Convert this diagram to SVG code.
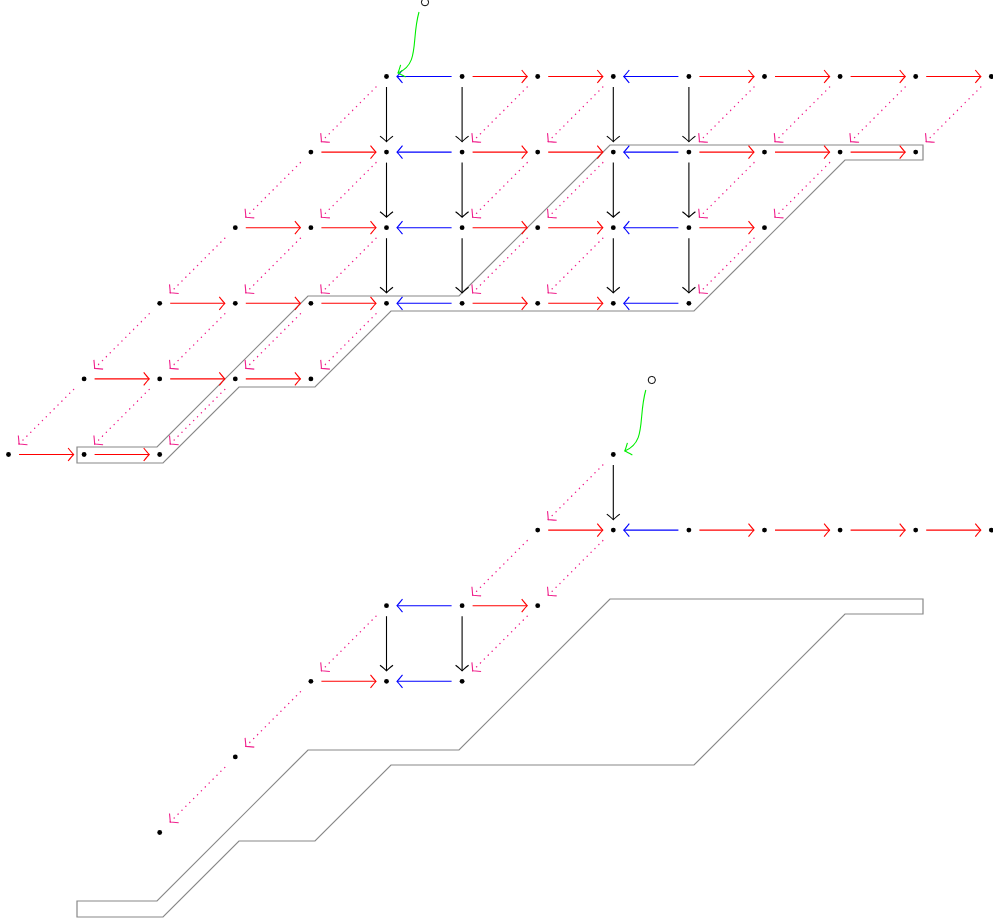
<svg xmlns="http://www.w3.org/2000/svg" width="993" height="924" viewBox="0 0 993 924">
<style>
.d{fill:#000}
.r{stroke:#ff0000;stroke-width:1.1;fill:none;marker-end:url(#ar)}
.b{stroke:#0000ff;stroke-width:1.1;fill:none;marker-end:url(#ab)}
.k{stroke:#000;stroke-width:1.1;fill:none;marker-end:url(#ak)}
.p{stroke:#f0208c;stroke-width:1.4;fill:none;stroke-linecap:round;stroke-dasharray:0.1 5.4;marker-end:url(#ap)}
.g{stroke:#00ee00;stroke-width:1.1;fill:none;marker-end:url(#ag)}
.o{stroke:#000;stroke-width:1;fill:#fff}
.band{stroke:#888;stroke-width:1.2;fill:none}
</style>
<defs>
<marker id="ar" markerUnits="userSpaceOnUse" orient="auto" refX="0" refY="0" markerWidth="14" markerHeight="14" viewBox="-7 -7 14 14" overflow="visible"><path d="M-5.5,-6.5 Q-1.5,-1.5 0,0 Q-1.5,1.5 -5.5,6.5" fill="none" stroke="#ff0000" stroke-width="1.1"/></marker>
<marker id="ab" markerUnits="userSpaceOnUse" orient="auto" refX="0" refY="0" markerWidth="14" markerHeight="14" viewBox="-7 -7 14 14" overflow="visible"><path d="M-5.5,-6.5 Q-1.5,-1.5 0,0 Q-1.5,1.5 -5.5,6.5" fill="none" stroke="#0000ff" stroke-width="1.1"/></marker>
<marker id="ak" markerUnits="userSpaceOnUse" orient="auto" refX="0" refY="0" markerWidth="14" markerHeight="14" viewBox="-7 -7 14 14" overflow="visible"><path d="M-5.5,-6.5 Q-1.5,-1.5 0,0 Q-1.5,1.5 -5.5,6.5" fill="none" stroke="#000" stroke-width="1.1"/></marker>
<marker id="ap" markerUnits="userSpaceOnUse" orient="auto" refX="0" refY="0" markerWidth="14" markerHeight="14" viewBox="-7 -7 14 14" overflow="visible"><path d="M-5.5,-6.5 Q-1.5,-1.5 0,0 Q-1.5,1.5 -5.5,6.5" fill="none" stroke="#f0208c" stroke-width="1.1"/></marker>
<marker id="ag" markerUnits="userSpaceOnUse" orient="auto" refX="0" refY="0" markerWidth="14" markerHeight="14" viewBox="-7 -7 14 14" overflow="visible"><path d="M-5.5,-6.5 Q-1.5,-1.5 0,0 Q-1.5,1.5 -5.5,6.5" fill="none" stroke="#00ee00" stroke-width="1.1"/></marker>
</defs>
<rect width="993" height="924" fill="#fff"/>

<g id="bands">
<path class="band" d="M77,447 H157 L308,296 H459 L610,145 H923 V160 H845 L694,311 H391 L315,387 H239 L163,463 H77 Z"/>
<path class="band" d="M77,901 H157 L308,750 H459 L610,599 H923 V614 H845 L694,765 H391 L315,841 H239 L163,917 H77 Z"/>
</g>

<g id="connectors">
<path class="r" d="M472.6,76.5 H527.2"/>
<path class="r" d="M548.2,76.5 H602.8"/>
<path class="r" d="M699.4,76.5 H754"/>
<path class="r" d="M775,76.5 H829.6"/>
<path class="r" d="M850.6,76.5 H905.2"/>
<path class="r" d="M926.2,76.5 H980.8"/>
<path class="r" d="M321.4,152.1 H376"/>
<path class="r" d="M472.6,152.1 H527.2"/>
<path class="r" d="M548.2,152.1 H602.8"/>
<path class="r" d="M699.4,152.1 H754"/>
<path class="r" d="M775,152.1 H829.6"/>
<path class="r" d="M850.6,152.1 H905.2"/>
<path class="r" d="M245.8,227.7 H300.4"/>
<path class="r" d="M321.4,227.7 H376"/>
<path class="r" d="M472.6,227.7 H527.2"/>
<path class="r" d="M548.2,227.7 H602.8"/>
<path class="r" d="M699.4,227.7 H754"/>
<path class="r" d="M170.2,303.3 H224.8"/>
<path class="r" d="M245.8,303.3 H300.4"/>
<path class="r" d="M321.4,303.3 H376"/>
<path class="r" d="M472.6,303.3 H527.2"/>
<path class="r" d="M548.2,303.3 H602.8"/>
<path class="r" d="M94.6,378.9 H149.2"/>
<path class="r" d="M170.2,378.9 H224.8"/>
<path class="r" d="M245.8,378.9 H300.4"/>
<path class="r" d="M19,454.5 H73.6"/>
<path class="r" d="M94.6,454.5 H149.2"/>
<path class="r" d="M548.2,530.1 H602.8"/>
<path class="r" d="M699.4,530.1 H754"/>
<path class="r" d="M775,530.1 H829.6"/>
<path class="r" d="M850.6,530.1 H905.2"/>
<path class="r" d="M926.2,530.1 H980.8"/>
<path class="r" d="M472.6,605.7 H527.2"/>
<path class="r" d="M321.4,681.3 H376"/>

<path class="b" d="M451.6,76.5 H397"/>
<path class="b" d="M678.4,76.5 H623.8"/>
<path class="b" d="M451.6,152.1 H397"/>
<path class="b" d="M678.4,152.1 H623.8"/>
<path class="b" d="M451.6,227.7 H397"/>
<path class="b" d="M678.4,227.7 H623.8"/>
<path class="b" d="M451.6,303.3 H397"/>
<path class="b" d="M678.4,303.3 H623.8"/>
<path class="b" d="M678.4,530.1 H623.8"/>
<path class="b" d="M451.6,605.7 H397"/>
<path class="b" d="M451.6,681.3 H397"/>

<path class="k" d="M386.5,87 V141.6"/>
<path class="k" d="M462.1,87 V141.6"/>
<path class="k" d="M613.3,87 V141.6"/>
<path class="k" d="M688.9,87 V141.6"/>
<path class="k" d="M386.5,162.6 V217.2"/>
<path class="k" d="M462.1,162.6 V217.2"/>
<path class="k" d="M613.3,162.6 V217.2"/>
<path class="k" d="M688.9,162.6 V217.2"/>
<path class="k" d="M386.5,238.2 V292.8"/>
<path class="k" d="M462.1,238.2 V292.8"/>
<path class="k" d="M613.3,238.2 V292.8"/>
<path class="k" d="M688.9,238.2 V292.8"/>
<path class="k" d="M613.3,465 V519.6"/>
<path class="k" d="M386.5,616.2 V670.8"/>
<path class="k" d="M462.1,616.2 V670.8"/>

<path class="p" d="M376,87 L321.4,141.6"/>
<path class="p" d="M527.2,87 L472.6,141.6"/>
<path class="p" d="M602.8,87 L548.2,141.6"/>
<path class="p" d="M754,87 L699.4,141.6"/>
<path class="p" d="M829.6,87 L775,141.6"/>
<path class="p" d="M905.2,87 L850.6,141.6"/>
<path class="p" d="M980.8,87 L926.2,141.6"/>
<path class="p" d="M300.4,162.6 L245.8,217.2"/>
<path class="p" d="M376,162.6 L321.4,217.2"/>
<path class="p" d="M527.2,162.6 L472.6,217.2"/>
<path class="p" d="M602.8,162.6 L548.2,217.2"/>
<path class="p" d="M754,162.6 L699.4,217.2"/>
<path class="p" d="M829.6,162.6 L775,217.2"/>
<path class="p" d="M224.8,238.2 L170.2,292.8"/>
<path class="p" d="M300.4,238.2 L245.8,292.8"/>
<path class="p" d="M376,238.2 L321.4,292.8"/>
<path class="p" d="M527.2,238.2 L472.6,292.8"/>
<path class="p" d="M602.8,238.2 L548.2,292.8"/>
<path class="p" d="M754,238.2 L699.4,292.8"/>
<path class="p" d="M149.2,313.8 L94.6,368.4"/>
<path class="p" d="M224.8,313.8 L170.2,368.4"/>
<path class="p" d="M300.4,313.8 L245.8,368.4"/>
<path class="p" d="M376,313.8 L321.4,368.4"/>
<path class="p" d="M73.6,389.4 L19,444"/>
<path class="p" d="M149.2,389.4 L94.6,444"/>
<path class="p" d="M224.8,389.4 L170.2,444"/>
<path class="p" d="M602.8,465 L548.2,519.6"/>
<path class="p" d="M527.2,540.6 L472.6,595.2"/>
<path class="p" d="M602.8,540.6 L548.2,595.2"/>
<path class="p" d="M376,616.2 L321.4,670.8"/>
<path class="p" d="M527.2,616.2 L472.6,670.8"/>
<path class="p" d="M300.4,691.8 L245.8,746.4"/>
<path class="p" d="M224.8,767.4 L170.2,822"/>

<path class="g" d="M419,12 C411,40 420,64 398,73"/>
<path class="g" d="M645.8,390 C637.8,418 646.8,442 624.8,451"/>
</g>

<g id="s-top"><circle class="o" cx="425" cy="2.2" r="3.6"/></g>
<g id="s-bot"><circle class="o" cx="651.8" cy="380" r="3.6"/></g>

<g id="n-0-5"><circle class="d" cx="386.5" cy="76.5" r="2.4"/></g>
<g id="n-0-6"><circle class="d" cx="462.1" cy="76.5" r="2.4"/></g>
<g id="n-0-7"><circle class="d" cx="537.7" cy="76.5" r="2.4"/></g>
<g id="n-0-8"><circle class="d" cx="613.3" cy="76.5" r="2.4"/></g>
<g id="n-0-9"><circle class="d" cx="688.9" cy="76.5" r="2.4"/></g>
<g id="n-0-10"><circle class="d" cx="764.5" cy="76.5" r="2.4"/></g>
<g id="n-0-11"><circle class="d" cx="840.1" cy="76.5" r="2.4"/></g>
<g id="n-0-12"><circle class="d" cx="915.7" cy="76.5" r="2.4"/></g>
<g id="n-0-13"><circle class="d" cx="991.3" cy="76.5" r="2.4"/></g>

<g id="n-1-4"><circle class="d" cx="310.9" cy="152.1" r="2.4"/></g>
<g id="n-1-5"><circle class="d" cx="386.5" cy="152.1" r="2.4"/></g>
<g id="n-1-6"><circle class="d" cx="462.1" cy="152.1" r="2.4"/></g>
<g id="n-1-7"><circle class="d" cx="537.7" cy="152.1" r="2.4"/></g>
<g id="n-1-8"><circle class="d" cx="613.3" cy="152.1" r="2.4"/></g>
<g id="n-1-9"><circle class="d" cx="688.9" cy="152.1" r="2.4"/></g>
<g id="n-1-10"><circle class="d" cx="764.5" cy="152.1" r="2.4"/></g>
<g id="n-1-11"><circle class="d" cx="840.1" cy="152.1" r="2.4"/></g>
<g id="n-1-12"><circle class="d" cx="915.7" cy="152.1" r="2.4"/></g>

<g id="n-2-3"><circle class="d" cx="235.3" cy="227.7" r="2.4"/></g>
<g id="n-2-4"><circle class="d" cx="310.9" cy="227.7" r="2.4"/></g>
<g id="n-2-5"><circle class="d" cx="386.5" cy="227.7" r="2.4"/></g>
<g id="n-2-6"><circle class="d" cx="462.1" cy="227.7" r="2.4"/></g>
<g id="n-2-7"><circle class="d" cx="537.7" cy="227.7" r="2.4"/></g>
<g id="n-2-8"><circle class="d" cx="613.3" cy="227.7" r="2.4"/></g>
<g id="n-2-9"><circle class="d" cx="688.9" cy="227.7" r="2.4"/></g>
<g id="n-2-10"><circle class="d" cx="764.5" cy="227.7" r="2.4"/></g>

<g id="n-3-2"><circle class="d" cx="159.7" cy="303.3" r="2.4"/></g>
<g id="n-3-3"><circle class="d" cx="235.3" cy="303.3" r="2.4"/></g>
<g id="n-3-4"><circle class="d" cx="310.9" cy="303.3" r="2.4"/></g>
<g id="n-3-5"><circle class="d" cx="386.5" cy="303.3" r="2.4"/></g>
<g id="n-3-6"><circle class="d" cx="462.1" cy="303.3" r="2.4"/></g>
<g id="n-3-7"><circle class="d" cx="537.7" cy="303.3" r="2.4"/></g>
<g id="n-3-8"><circle class="d" cx="613.3" cy="303.3" r="2.4"/></g>
<g id="n-3-9"><circle class="d" cx="688.9" cy="303.3" r="2.4"/></g>

<g id="n-4-1"><circle class="d" cx="84.1" cy="378.9" r="2.4"/></g>
<g id="n-4-2"><circle class="d" cx="159.7" cy="378.9" r="2.4"/></g>
<g id="n-4-3"><circle class="d" cx="235.3" cy="378.9" r="2.4"/></g>
<g id="n-4-4"><circle class="d" cx="310.9" cy="378.9" r="2.4"/></g>

<g id="n-5-0"><circle class="d" cx="8.5" cy="454.5" r="2.4"/></g>
<g id="n-5-1"><circle class="d" cx="84.1" cy="454.5" r="2.4"/></g>
<g id="n-5-2"><circle class="d" cx="159.7" cy="454.5" r="2.4"/></g>

<g id="m-5-8"><circle class="d" cx="613.3" cy="454.5" r="2.4"/></g>
<g id="m-6-7"><circle class="d" cx="537.7" cy="530.1" r="2.4"/></g>
<g id="m-6-8"><circle class="d" cx="613.3" cy="530.1" r="2.4"/></g>
<g id="m-6-9"><circle class="d" cx="688.9" cy="530.1" r="2.4"/></g>
<g id="m-6-10"><circle class="d" cx="764.5" cy="530.1" r="2.4"/></g>
<g id="m-6-11"><circle class="d" cx="840.1" cy="530.1" r="2.4"/></g>
<g id="m-6-12"><circle class="d" cx="915.7" cy="530.1" r="2.4"/></g>
<g id="m-6-13"><circle class="d" cx="991.3" cy="530.1" r="2.4"/></g>
<g id="m-7-5"><circle class="d" cx="386.5" cy="605.7" r="2.4"/></g>
<g id="m-7-6"><circle class="d" cx="462.1" cy="605.7" r="2.4"/></g>
<g id="m-7-7"><circle class="d" cx="537.7" cy="605.7" r="2.4"/></g>
<g id="m-8-4"><circle class="d" cx="310.9" cy="681.3" r="2.4"/></g>
<g id="m-8-5"><circle class="d" cx="386.5" cy="681.3" r="2.4"/></g>
<g id="m-8-6"><circle class="d" cx="462.1" cy="681.3" r="2.4"/></g>
<g id="m-9-3"><circle class="d" cx="235.3" cy="756.9" r="2.4"/></g>
<g id="m-10-2"><circle class="d" cx="159.7" cy="832.5" r="2.4"/></g>
</svg>
